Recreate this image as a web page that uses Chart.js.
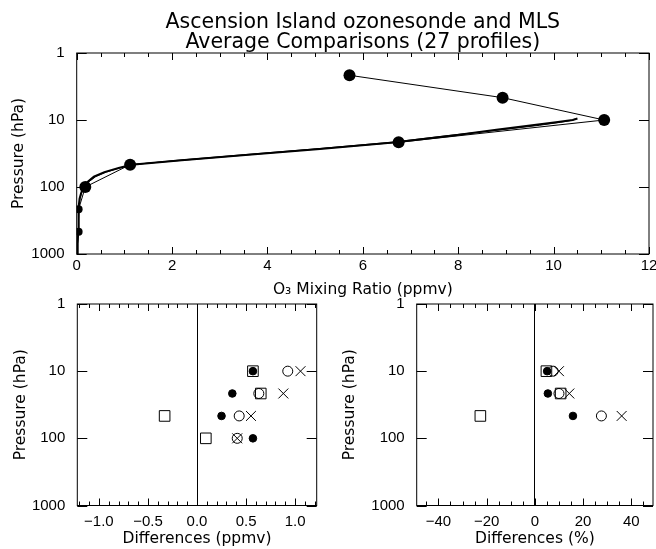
<!DOCTYPE html>
<html>
<head>
<meta charset="utf-8">
<title>Ascension Island ozonesonde and MLS</title>
<script src="https://cdn.jsdelivr.net/npm/chart.js@4.4.1/dist/chart.umd.min.js"></script>
<style>
  html, body { margin: 0; padding: 0; background: #fff; }
  #page { position: relative; width: 656px; height: 549px; }
  #page canvas { position: absolute; left: 0; top: 0; }
</style>
</head>
<body>
<div id="page">
  <canvas id="profile" width="656" height="549"></canvas>
  <canvas id="diffPpmv" width="656" height="549"></canvas>
  <canvas id="diffPct" width="656" height="549"></canvas>
</div>
<script>
// ---- 資料：上圖（平均剖面） ----
const mlsPressure = [2.15, 4.64, 10, 21.5, 46.4, 100, 215, 464];
const mlsOzone = [5.72, 8.93, 11.06, 6.75, 1.12, 0.18, 0.04, 0.04];

const sondePressure = [1000, 700, 500, 300, 200, 150, 125, 100, 85, 70, 60, 52, 46.4, 40, 33, 27, 21.5, 17, 14, 12, 10.8, 10, 9.5];
const sondeOzone = [0.01, 0.02, 0.03, 0.04, 0.04, 0.06, 0.09, 0.14, 0.22, 0.36, 0.58, 0.88, 1.15, 2.2, 3.6, 5.1, 6.7, 7.9, 8.8, 9.55, 10.05, 10.4, 10.5];
const sondeSmoothOzone = [0.01, 0.02, 0.03, 0.04, 0.05, 0.07, 0.1, 0.15, 0.24, 0.4, 0.62, 0.9, 1.18, 2.1, 3.5, 5.0, 6.6, 7.8, 8.9, 9.7, 10.15, 10.42, 10.45];

// ---- 資料：下圖（差值） ----
const diffPressure = [10, 21.5, 46.4, 100];
const ppmvDot = [0.57, 0.36, 0.25, 0.57];
const ppmvCircle = [0.925, 0.63, 0.43, 0.41];
const ppmvCross = [1.055, 0.88, 0.55, 0.41];
const ppmvSquare = [0.57, 0.65, -0.33, 0.09];
const pctDot = [5.1, 5.4, 15.8, null];
const pctCircle = [7.6, 10.0, 27.6, null];
const pctCross = [10.0, 14.3, 36.0, null];
const pctSquare = [4.8, 10.7, -22.6, null];

// ---- 刻度 ----
const pressureTicks = [1, 10, 100, 1000];
const ozoneTicks = [0, 2, 4, 6, 8, 10, 12];
const ppmvTicks = [-1.0, -0.5, 0.0, 0.5, 1.0];
const pctTicks = [-40, -20, 0, 20, 40];

const FONT_TEXT = '"DejaVu Sans", sans-serif';
const FONT_TICK = '"Liberation Sans", Arial, sans-serif';
const INK = '#000';

const points = (xs, ys) => xs.map((x, i) => ({ x, y: ys[i] })).filter((p) => p.x !== null);

/** IDL 風格的外框：四邊框線，刻度往內畫 */
const idlFrame = {
    id: 'idlFrame',
    afterDatasetsDraw(chart, args, opts) {
        const { ctx, chartArea: a, scales: { x, y } } = chart;
        ctx.save();
        ctx.strokeStyle = INK;
        ctx.lineWidth = 1;
        ctx.strokeRect(a.left, a.top, a.right - a.left, a.bottom - a.top);
        ctx.beginPath();
        const first = Math.ceil(x.min / opts.xMinor - 1e-6);
        const last = Math.floor(x.max / opts.xMinor + 1e-6);
        for (let k = first; k <= last; k++) {
            const v = k * opts.xMinor;
            const r = v / opts.xMajor;
            const len = Math.abs(r - Math.round(r)) < 1e-6 ? 7 : 4;
            const px = Math.round(x.getPixelForValue(v)) + 0.5;
            ctx.moveTo(px, a.bottom);
            ctx.lineTo(px, a.bottom - len);
            ctx.moveTo(px, a.top);
            ctx.lineTo(px, a.top + len);
        }
        for (const v of pressureTicks) {
            const py = Math.round(y.getPixelForValue(v)) + 0.5;
            ctx.moveTo(a.left, py);
            ctx.lineTo(a.left + 10, py);
            ctx.moveTo(a.right, py);
            ctx.lineTo(a.right - 10, py);
        }
        ctx.stroke();
        ctx.restore();
    }
};

function pressureAxis(width, titleOffset) {
    return {
        type: 'logarithmic',
        reverse: true,
        min: 1,
        max: 1000,
        afterBuildTicks: (scale) => { scale.ticks = pressureTicks.map((value) => ({ value })); },
        afterFit: (scale) => { scale.width = width; },
        grid: { display: false },
        border: { display: false },
        ticks: { color: INK, font: { family: FONT_TICK, size: 15 }, padding: 4, autoSkip: false, callback: (value) => String(value) },
        title: {
            display: true,
            text: 'Pressure (hPa)',
            color: INK,
            font: { family: FONT_TEXT, size: 15.5, lineHeight: 1.2 },
            padding: { top: titleOffset, bottom: 0 }
        }
    };
}

function valueAxis({ min, max, ticks, height, title, tickPadding, format }) {
    return {
        type: 'linear',
        min,
        max,
        afterBuildTicks: (scale) => { scale.ticks = ticks.map((value) => ({ value })); },
        afterFit: (scale) => {
            scale.height = height;
            // 版面位置全由 layout.padding 決定，不讓刻度文字把圖區往內擠
            scale.paddingLeft = 0;
            scale.paddingRight = 0;
        },
        // 差值圖在 0 處畫一條垂直參考線
        grid: { drawTicks: false, lineWidth: 1, color: (c) => (min < 0 && c.tick && c.tick.value === 0 ? INK : 'rgba(0,0,0,0)') },
        border: { display: false },
        ticks: { color: INK, font: { family: FONT_TICK, size: 15 }, padding: tickPadding, autoSkip: false, maxRotation: 0, callback: format },
        title: {
            display: true,
            text: title,
            color: INK,
            font: { family: FONT_TEXT, size: 15.5, lineHeight: 1.2 },
            padding: { top: 0, bottom: 0 }
        }
    };
}

const baseOptions = {
    responsive: false,
    animation: false,
    events: [],
    plugins: { legend: { display: false }, tooltip: { enabled: false } }
};

// 大號資料點會觸發 autoPadding 把圖區往內縮，這裡關掉
const layoutAt = (padding) => ({ autoPadding: false, padding });

const signed = (v, digits) => (v < 0 ? '\u2212' : '') + Math.abs(v).toFixed(digits);

new Chart(document.getElementById('profile'), {
    type: 'scatter',
    data: {
        datasets: [
            {
                label: 'MLS',
                data: points(mlsOzone, mlsPressure),
                showLine: true,
                borderColor: INK,
                borderWidth: 1,
                backgroundColor: INK,
                pointRadius: (c) => (c.raw && c.raw.y > 150 ? 4 : 6),
                pointBorderWidth: 0
            },
            {
                label: 'Ozonesonde',
                data: points(sondeOzone, sondePressure),
                showLine: true,
                borderColor: INK,
                borderWidth: 2,
                pointRadius: 0
            },
            {
                label: 'Ozonesonde (smoothed)',
                data: points(sondeSmoothOzone, sondePressure),
                showLine: true,
                borderColor: INK,
                borderWidth: 1,
                pointRadius: 0
            }
        ]
    },
    options: {
        ...baseOptions,
        layout: layoutAt({ left: 0, top: 0, right: 7, bottom: 249.7 }),
        scales: {
            x: valueAxis({ min: 0, max: 12, ticks: ozoneTicks, height: 45.3, title: 'O\u2083 Mixing Ratio (ppmv)', tickPadding: 3, format: (v) => String(v) }),
            y: pressureAxis(76.7, 9.5)
        },
        plugins: {
            ...baseOptions.plugins,
            title: {
                display: true,
                fullSize: false,
                text: ['Ascension Island ozonesonde and MLS', 'Average Comparisons (27 profiles)'],
                color: INK,
                font: { family: FONT_TEXT, size: 20.5, weight: 'normal', lineHeight: 1.0 },
                padding: { top: 12, bottom: 0 }
            },
            idlFrame: { xMinor: 0.5, xMajor: 2 }
        }
    },
    plugins: [idlFrame]
});

function diffDatasets(dot, circle, cross, square) {
    return [
        { label: 'dot', data: points(dot, diffPressure), pointStyle: 'circle', pointRadius: 3.8, backgroundColor: INK, borderColor: INK },
        { label: 'circle', data: points(circle, diffPressure), pointStyle: 'circle', pointRadius: 5, backgroundColor: 'rgba(0,0,0,0)', borderColor: INK, pointBorderWidth: 1 },
        { label: 'cross', data: points(cross, diffPressure), pointStyle: 'crossRot', pointRadius: 7, borderColor: INK, pointBorderWidth: 1 },
        { label: 'square', data: points(square, diffPressure), pointStyle: 'rect', pointRadius: 7.5, backgroundColor: 'rgba(0,0,0,0)', borderColor: INK, pointBorderWidth: 1 }
    ];
}

new Chart(document.getElementById('diffPpmv'), {
    type: 'scatter',
    data: { datasets: diffDatasets(ppmvDot, ppmvCircle, ppmvCross, ppmvSquare) },
    options: {
        ...baseOptions,
        layout: layoutAt({ left: 0, top: 304, right: 339.3, bottom: 0.7 }),
        scales: {
            x: valueAxis({ min: -1.22, max: 1.22, ticks: ppmvTicks, height: 42.8, title: 'Differences (ppmv)', tickPadding: 7.5, format: (v) => signed(v, 1) }),
            y: pressureAxis(77.3, 11.7)
        },
        plugins: { ...baseOptions.plugins, idlFrame: { xMinor: 0.1, xMajor: 0.5 } }
    },
    plugins: [idlFrame]
});

new Chart(document.getElementById('diffPct'), {
    type: 'scatter',
    data: { datasets: diffDatasets(pctDot, pctCircle, pctCross, pctSquare) },
    options: {
        ...baseOptions,
        layout: layoutAt({ left: 340, top: 304, right: 3, bottom: 0.7 }),
        scales: {
            x: valueAxis({ min: -49, max: 49, ticks: pctTicks, height: 42.8, title: 'Differences (%)', tickPadding: 7.5, format: (v) => signed(v, 0) }),
            y: pressureAxis(76.7, 0.7)
        },
        plugins: { ...baseOptions.plugins, idlFrame: { xMinor: 5, xMajor: 20 } }
    },
    plugins: [idlFrame]
});
</script>
</body>
</html>
